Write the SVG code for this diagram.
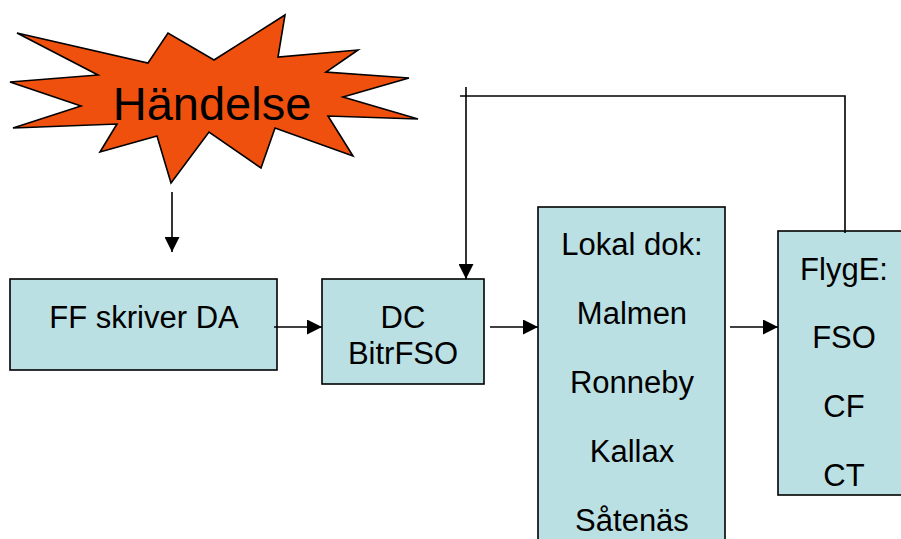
<svg xmlns="http://www.w3.org/2000/svg" width="901" height="539" viewBox="0 0 901 539">
  <style>
    .box { fill: #BBE0E3; stroke: #000; stroke-width: 1.6; }
    .lbl { font-family: "Liberation Sans", Arial, sans-serif; font-size: 31px; fill: #000; text-anchor: middle; }
    .wire { fill: none; stroke: #000; stroke-width: 1.6; }
  </style>
  <defs>
    <marker id="arrow" viewBox="0 0 10 10" refX="10" refY="5" markerWidth="15" markerHeight="15" markerUnits="userSpaceOnUse" orient="auto">
      <path d="M0,0 L10,5 L0,10 Z" fill="#000"/>
    </marker>
  </defs>

  <!-- Event burst -->
  <g id="handelse">
    <polygon points="17,33 148,63 168,33 214,60 285,15 278,57 358,50 326,72 409,78 343,97 418,119 328,116 353,156 275,128 261,168 209,132 171,183 157,136 100,152 117,124 13,128 81,106 10,82 98,75" fill="#F0500E" stroke="#000" stroke-width="1.6" stroke-linejoin="miter"/>
    <text x="212" y="120" class="lbl" style="font-size:47px">Händelse</text>
  </g>

  <g id="ff">
    <rect class="box" x="10" y="279" width="267" height="91"/>
    <text x="144" y="328" class="lbl">FF skriver DA</text>
  </g>

  <g id="dc">
    <rect class="box" x="322" y="279" width="162" height="105"/>
    <text x="403" y="328" class="lbl">DC</text>
    <text x="403" y="364" class="lbl">BitrFSO</text>
  </g>

  <g id="lokal">
    <rect class="box" x="538" y="207" width="187" height="345"/>
    <text x="632" y="255" class="lbl">Lokal dok:</text>
    <text x="632" y="324" class="lbl">Malmen</text>
    <text x="632" y="393" class="lbl">Ronneby</text>
    <text x="632" y="462" class="lbl">Kallax</text>
    <text x="632" y="531" class="lbl">Såtenäs</text>
  </g>

  <g id="flyge">
    <rect class="box" x="778" y="231" width="140" height="264"/>
    <text x="844" y="280" class="lbl">FlygE:</text>
    <text x="844" y="348" class="lbl">FSO</text>
    <text x="844" y="417" class="lbl">CF</text>
    <text x="844" y="486" class="lbl">CT</text>
  </g>

  <g id="connectors">
    <line class="wire" x1="172" y1="192" x2="172" y2="252" marker-end="url(#arrow)"/>
    <line class="wire" x1="274" y1="327" x2="322" y2="327" marker-end="url(#arrow)"/>
    <line class="wire" x1="490" y1="327" x2="538" y2="327" marker-end="url(#arrow)"/>
    <line class="wire" x1="730" y1="327" x2="778" y2="327" marker-end="url(#arrow)"/>
    <polyline class="wire" points="845,233 845,96 460,96"/>
    <line class="wire" x1="466" y1="87" x2="466" y2="279" marker-end="url(#arrow)"/>
  </g>
</svg>
